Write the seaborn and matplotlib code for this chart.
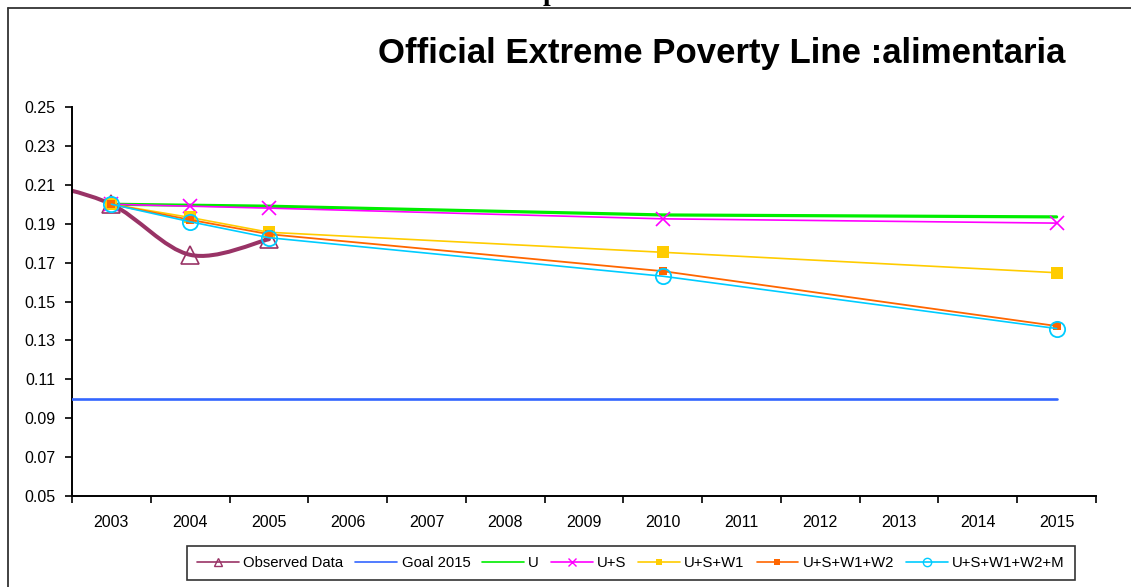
import numpy as np
import pandas as pd
import matplotlib
matplotlib.use("Agg")
import matplotlib.pyplot as plt
import seaborn as sns
from matplotlib.path import Path
from matplotlib.patches import PathPatch
from matplotlib.lines import Line2D

# ---------------- data ----------------
all_years = list(range(2003, 2016))
tick_labels = [str(y) for y in all_years]

obs_years = [2002, 2003, 2004, 2005]
obs_vals = [0.212, 0.200, 0.174, 0.182]

goal_years = [2002, 2015]
goal_vals = [0.10, 0.10]

proj_years = [2003, 2004, 2005, 2010, 2015]
u_vals = [0.200, 0.1995, 0.1990, 0.1945, 0.1935]
us_vals = [0.200, 0.1990, 0.1980, 0.1925, 0.1903]
usw1_vals = [0.200, 0.1932, 0.1856, 0.1753, 0.1648]
usw1w2_vals = [0.200, 0.1920, 0.1846, 0.1656, 0.1374]
usw1w2m_vals = [0.200, 0.1910, 0.1828, 0.1630, 0.1361]

title = "Official Extreme Poverty Line :alimentaria"

# ---------------- style ----------------
sns.set_theme(style="white")
plt.rcParams['font.family'] = ['Liberation Sans', 'DejaVu Sans']

W, H = 1131, 587
fig = plt.figure(figsize=(W / 100, H / 100), dpi=100)
fig.patch.set_facecolor("white")
ax = fig.add_axes([72 / W, 1 - 496 / H, (1096 - 72) / W, (496 - 107) / H])
ax.set_facecolor("white")

C_OBS = "#993366"
C_GOAL = "#3366FF"
C_U = "#00EE00"
C_US = "#FF00FF"
C_W1 = "#FFCC00"
C_W2 = "#FF6600"
C_M = "#00CCFF"

# Observed data: smooth (Excel-like) curve through points
def bezier_path(xs, ys):
    pts = np.column_stack([xs, ys]).astype(float)
    n = len(pts)
    verts = [pts[0]]
    codes = [Path.MOVETO]
    for i in range(n - 1):
        p0 = pts[i - 1] if i > 0 else pts[i]
        p1 = pts[i]
        p2 = pts[i + 1]
        p3 = pts[i + 2] if i + 2 < n else pts[i + 1]
        c1 = p1 + (p2 - p0) / 6.0
        c2 = p2 - (p3 - p1) / 6.0
        verts += [c1, c2, p2]
        codes += [Path.CURVE4] * 3
    return Path(verts, codes)

ax.add_patch(PathPatch(bezier_path(obs_years, obs_vals), fill=False,
                       edgecolor=C_OBS, lw=2.9, zorder=2, capstyle='round'))
obs_df = pd.DataFrame({"year": obs_years, "v": obs_vals})
sns.lineplot(data=obs_df, x="year", y="v", ax=ax, linestyle="none",
             marker="^", markersize=13, markerfacecolor="none",
             markeredgecolor=C_OBS, markeredgewidth=1.2, zorder=3)

sns.lineplot(x=goal_years, y=goal_vals, ax=ax, color=C_GOAL, lw=1.9, zorder=3)

def proj(vals, color, lw, **kw):
    sns.lineplot(x=proj_years, y=vals, ax=ax, color=color, lw=lw, zorder=4, **kw)

proj(u_vals, C_U, 2.3)
proj(us_vals, C_US, 1.2, marker="x", markersize=10, markeredgewidth=1.2,
     markeredgecolor=C_US)
proj(usw1_vals, C_W1, 1.2, marker="s", markersize=8, markeredgewidth=0,
     markerfacecolor=C_W1)
proj(usw1w2_vals, C_W2, 1.3, marker="s", markersize=6, markeredgewidth=0,
     markerfacecolor=C_W2)
proj(usw1w2m_vals, C_M, 1.2, marker="o", markersize=11, markerfacecolor="none",
     markeredgecolor=C_M, markeredgewidth=1.3)

# ---------------- axes ----------------
ax.set_xlim(2002.5, 2015.5)
ax.set_ylim(0.05, 0.25)
yt = np.round(np.arange(0.05, 0.2501, 0.02), 2)
ax.set_yticks(yt)
ax.set_yticklabels([f"{v:.2f}" for v in yt])
ax.set_xticks(np.arange(2002.5, 2015.6, 1.0))
ax.set_xticklabels([])
ax.set_xticks(all_years, minor=True)
ax.set_xticklabels(tick_labels, minor=True)
ax.tick_params(axis='x', which='major', direction='out', length=5, width=1.2,
               color='black', bottom=True)
ax.tick_params(axis='x', which='minor', length=0, pad=14, labelsize=11.5,
               labelcolor='black')
ax.tick_params(axis='y', direction='out', length=5, width=1.2, color='black',
               left=True, labelsize=11.5, labelcolor='black', pad=7)
ax.set_xlabel("")
ax.set_ylabel("")
for s in ["top", "right"]:
    ax.spines[s].set_visible(False)
for s in ["left", "bottom"]:
    ax.spines[s].set_color("black")
    ax.spines[s].set_linewidth(1.4)
ax.grid(False)
if ax.get_legend():
    ax.get_legend().remove()

# ---------------- title & frame ----------------
fig.text(722 / W, 1 - 53 / H, title, ha="center", va="center",
         fontsize=25, fontweight="bold", color="black")
fig.text(550 / W, 1.0, "p", ha="center", va="baseline", fontsize=20,
         fontweight="bold", family="Liberation Serif", color="black")
fig.add_artist(Line2D([8 / W, 8 / W], [1 - 8 / H, -0.1], color="#333333",
                      lw=1.3, transform=fig.transFigure))
fig.add_artist(Line2D([8 / W, 1.1], [1 - 8 / H, 1 - 8 / H], color="#333333",
                      lw=1.3, transform=fig.transFigure))

# ---------------- legend ----------------
handles = [
    Line2D([], [], color=C_OBS, lw=1.2, marker="^", markersize=6,
           markerfacecolor="none", markeredgecolor=C_OBS),
    Line2D([], [], color=C_GOAL, lw=1.2),
    Line2D([], [], color=C_U, lw=1.2),
    Line2D([], [], color=C_US, lw=1.2, marker="x", markersize=6),
    Line2D([], [], color=C_W1, lw=1.2, marker="s", markersize=5,
           markeredgewidth=0),
    Line2D([], [], color=C_W2, lw=1.2, marker="s", markersize=5,
           markeredgewidth=0),
    Line2D([], [], color=C_M, lw=1.2, marker="o", markersize=6,
           markerfacecolor="none", markeredgecolor=C_M),
]
labels = ["Observed Data", "Goal 2015", "U", "U+S", "U+S+W1", "U+S+W1+W2",
          "U+S+W1+W2+M"]
leg = fig.legend(handles, labels, loc="center", bbox_to_anchor=(631 / W, 1 - 563 / H),
                 ncol=7, fontsize=10.7, frameon=True, fancybox=False,
                 edgecolor="black", handlelength=2.8, handletextpad=0.3,
                 columnspacing=0.8, borderpad=0.7)
leg.get_frame().set_linewidth(1.2)
for t in leg.get_texts():
    t.set_color("black")

fig.savefig("out.png", dpi=100, facecolor="white")
